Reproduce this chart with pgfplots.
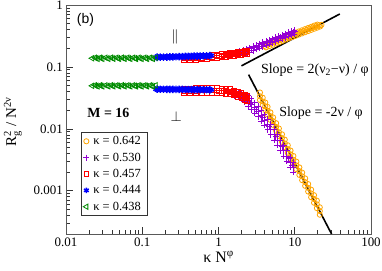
\documentclass[border=0pt]{standalone}
\usepackage{pgfplots}
\pgfplotsset{compat=1.18}
\usepackage{amsmath}
\usepackage{fontspec}
\setmainfont{Liberation Serif}
\newfontfamily\sansf{Liberation Sans}
\definecolor{corange}{RGB}{255,165,0}
\definecolor{cviolet}{RGB}{148,0,211}
\definecolor{cred}{RGB}{255,0,0}
\definecolor{cblue}{RGB}{0,0,255}
\definecolor{cgreen}{RGB}{0,139,0}
\begin{document}
\begin{tikzpicture}
\begin{axis}[
  xmode=log, ymode=log,
  scale only axis, width=305bp, height=229bp,
  xmin=0.01, xmax=100, ymin=2e-4, ymax=1,
  axis line style={black!65, line width=0.8bp},
  tick style={black!80, line width=0.6bp},
  tick align=inside,
  xtick pos=left, ytick pos=left,
  major tick length=7bp, minor tick length=4bp,
  xtick={0.01,0.1,1,10,100}, xticklabels={0.01,0.1,1,10,100},
  ytick={0.001,0.01,0.1,1}, yticklabels={0.001,0.01,0.1,1},
  minor xtick={0.02,0.03,0.04,0.05,0.06,0.07,0.08,0.09,0.2,0.3,0.4,0.5,0.6,0.7,0.8,0.9,2,3,4,5,6,7,8,9,20,30,40,50,60,70,80,90},
  minor ytick={3e-4,4e-4,5e-4,6e-4,7e-4,8e-4,9e-4,0.002,0.003,0.004,0.005,0.006,0.007,0.008,0.009,0.02,0.03,0.04,0.05,0.06,0.07,0.08,0.09,0.2,0.3,0.4,0.5,0.6,0.7,0.8,0.9},
  ticklabel style={font=\fontsize{13}{13}\selectfont},
  xticklabel style={inner sep=0pt, yshift=-4bp},
  yticklabel style={inner sep=0pt, xshift=-3bp},
  xlabel={κ N$^{\text{φ}}$},
  ylabel={R$_{\text{g}}^{\text{2}}$ / N$^{\text{2ν}}$},
  xlabel style={font=\fontsize{16}{16}\selectfont, at={(axis description cs:0.5,0)}, anchor=north, yshift=-17bp, inner sep=0pt},
  ylabel style={font=\fontsize{15}{15}\selectfont, at={(axis description cs:-0.174,0.49)}, anchor=center, inner sep=0pt},
  legend style={at={(axis description cs:0.049,0.445)}, anchor=north west, draw=black!80, line width=0.6bp, fill=white, font=\fontsize{12.5}{13}\selectfont, inner xsep=2bp, inner ysep=2bp, row sep=2.6bp, cells={anchor=west}, nodes={inner xsep=4bp}},
  clip=true,
]
\coordinate (sw) at (rel axis cs:0,0);
% kappa = 0.642
\addplot[only marks, mark=o, corange, mark size=2.6bp, line width=0.8pt] table {
4.0 0.218
4.4 0.228
4.9 0.240
5.4 0.251
6.0 0.264
6.6 0.276
7.3 0.289
8.0 0.302
8.8 0.316
9.7 0.330
10.7 0.346
11.8 0.362
13.0 0.379
14.3 0.396
15.7 0.414
17.3 0.434
19.0 0.453
20.7 0.468
22.4 0.478
4.2 0.236
4.65 0.247
5.15 0.259
5.7 0.272
6.3 0.286
6.95 0.299
7.65 0.313
8.4 0.327
9.25 0.342
10.2 0.357
11.25 0.373
12.4 0.390
13.65 0.408
15.0 0.426
16.5 0.445
18.1 0.466
19.8 0.483
4.2 0.207
4.65 0.217
5.15 0.228
5.7 0.240
6.3 0.252
6.95 0.264
7.65 0.277
8.4 0.290
9.25 0.303
10.2 0.317
11.25 0.332
12.4 0.347
13.65 0.363
15.0 0.379
16.5 0.397
18.1 0.414
19.8 0.432
21.5 0.450
3.5 0.03354
3.8 0.02766
4.1 0.02316
4.4 0.01963
4.8 0.01602
5.2 0.01328
5.7 0.01071
6.2 0.0088
6.8 0.00709
7.4 0.00581
8.1 0.00471
8.8 0.00388
9.6 0.003163
10.5 0.002565
11.5 0.002073
12.5 0.001706
13.7 0.001376
15 0.001113
16.4 0.000903
17.9 0.000736
19.5 0.000602
21.3 0.00047
3.5 0.0386
3.8 0.0318
4.1 0.0266
4.4 0.0226
4.8 0.0184
5.2 0.01527
5.7 0.01232
6.2 0.01012
6.8 0.00815
7.4 0.00668
8.1 0.00542
8.8 0.00446
9.6 0.00364
10.5 0.00295
11.5 0.00238
12.5 0.00196
13.7 0.00158
15 0.00128
16.4 0.00104
17.9 0.000846
19.5 0.000692
21.3 0.00054
3.5 0.0292
3.8 0.0241
4.1 0.0201
4.4 0.01708
4.8 0.01394
5.2 0.01155
5.7 0.00932
6.2 0.00766
6.8 0.00617
7.4 0.00505
8.1 0.0041
8.8 0.00338
9.6 0.00275
10.5 0.00223
11.5 0.0018
12.5 0.00148
13.7 0.0012
15 0.00097
16.4 0.000786
17.9 0.00064
19.5 0.000524
21.3 0.00041
};
\addlegendentry{κ = 0.642}
% kappa = 0.530
\addplot[only marks, mark=+, cviolet, mark size=3bp, line width=0.9pt] table {
1.6 0.162
1.8 0.165
2.0 0.172
2.2 0.177
2.45 0.1866
2.7 0.1956
3.0 0.2058
3.3 0.2156
3.65 0.2265
4.0 0.237
4.4 0.248
4.85 0.260
5.35 0.273
5.9 0.286
6.5 0.300
7.15 0.314
7.9 0.330
8.7 0.346
9.5 0.361
10.0 0.370
1.7 0.175
1.9 0.180
2.1 0.186
2.32 0.193
2.57 0.203
2.85 0.214
3.15 0.225
3.47 0.236
3.82 0.248
4.2 0.259
4.62 0.271
5.1 0.285
5.62 0.299
6.2 0.313
6.82 0.328
7.5 0.344
8.3 0.361
9.1 0.378
9.8 0.392
1.7 0.150
1.9 0.155
2.1 0.160
2.32 0.167
2.57 0.174
2.85 0.183
3.15 0.192
3.47 0.201
3.82 0.212
4.2 0.222
4.62 0.233
5.1 0.245
5.62 0.257
6.2 0.270
6.82 0.283
7.5 0.297
8.3 0.312
9.1 0.327
9.8 0.340
1.6 0.0368
1.8 0.0352
2.0 0.0332
2.2 0.031
2.45 0.028
2.7 0.025
3.0 0.0218
3.3 0.019
3.65 0.0163
4.0 0.0139
4.4 0.0117
4.85 0.0097
5.35 0.0080
5.9 0.0066
6.5 0.0054
7.15 0.0044
7.9 0.0036
8.7 0.0029
9.5 0.0024
1.6 0.0395
1.6 0.0340
1.8 0.0380
1.8 0.0325
2.0 0.0360
2.0 0.0305
2.2 0.0350
2.2 0.0275
2.45 0.0342
2.45 0.0230
2.7 0.0305
2.7 0.0205
3.0 0.0266
3.0 0.0179
3.3 0.0232
3.3 0.0156
3.65 0.0199
3.65 0.0134
4.0 0.0170
4.0 0.0114
4.4 0.0143
4.4 0.0096
4.85 0.0118
4.85 0.0080
5.35 0.0098
5.35 0.0066
5.9 0.0081
5.9 0.0054
6.5 0.0066
6.5 0.0044
7.15 0.0054
7.15 0.0036
7.9 0.0044
7.9 0.0030
8.7 0.0035
8.7 0.0024
9.5 0.0029
9.5 0.0020
2.6 0.026
3.15 0.0205
3.8 0.0152
4.6 0.0108
5.6 0.0075
6.8 0.0051
8.3 0.0033
9.2 0.0026
};
\addlegendentry{κ = 0.530}
% kappa = 0.457
\addplot[only marks, mark=square, cred, mark size=2.4bp, line width=0.8pt] table {
0.35 0.137
0.42 0.138
0.5 0.139
0.6 0.141
0.7 0.143
0.82 0.146
0.95 0.149
1.1 0.152
1.25 0.155
1.4 0.158
1.6 0.161
1.8 0.164
2.0 0.168
2.2 0.171
2.35 0.174
0.35 0.145
0.42 0.146
0.5 0.147
0.6 0.149
0.7 0.152
0.82 0.155
0.95 0.158
1.1 0.161
1.25 0.164
1.4 0.167
1.6 0.171
1.8 0.174
2.0 0.178
2.2 0.181
2.35 0.184
0.35 0.129
0.42 0.130
0.5 0.131
0.6 0.133
0.7 0.134
0.82 0.137
0.95 0.140
1.1 0.143
1.25 0.146
1.4 0.149
1.6 0.151
1.8 0.154
2.0 0.158
2.2 0.161
2.35 0.164
1.02 0.15
1.18 0.153
1.32 0.156
1.5 0.16
1.7 0.163
1.9 0.166
2.1 0.169
2.3 0.172
0.35 0.041
0.42 0.0412
0.5 0.0415
0.6 0.0417
0.7 0.0418
0.82 0.0418
0.95 0.0416
1.1 0.0412
1.25 0.0406
1.4 0.040
1.6 0.038
1.8 0.036
2.0 0.0345
2.2 0.0325
2.35 0.031
0.35 0.0447
0.42 0.0449
0.5 0.0452
0.6 0.0455
0.7 0.0456
0.82 0.0456
0.95 0.0453
1.1 0.0449
1.25 0.0443
1.4 0.0436
1.6 0.0414
1.8 0.0392
2.0 0.0376
2.2 0.0354
2.35 0.0338
0.35 0.0373
0.42 0.0375
0.5 0.0378
0.6 0.0379
0.7 0.0380
0.82 0.0380
0.95 0.0379
1.1 0.0375
1.25 0.0369
1.4 0.0364
1.6 0.0346
1.8 0.0328
2.0 0.0314
2.2 0.0296
2.35 0.0282
1.02 0.0414
1.18 0.041
1.32 0.0403
1.5 0.039
1.7 0.037
1.9 0.0352
2.1 0.0334
2.3 0.0315
};
\addlegendentry{κ = 0.457}
% kappa = 0.444
\addplot[only marks, mark=asterisk, cblue, mark size=2.8bp, line width=1.4pt] table {
0.15 0.143
0.165 0.1435
0.18 0.144
0.2 0.1445
0.22 0.145
0.24 0.1455
0.265 0.146
0.29 0.1465
0.32 0.147
0.35 0.1475
0.385 0.148
0.42 0.1485
0.46 0.149
0.5 0.1495
0.55 0.150
0.6 0.1505
0.66 0.151
0.73 0.152
0.81 0.153
0.157 0.149
0.172 0.1485
0.19 0.149
0.21 0.1496
0.23 0.150
0.252 0.1506
0.277 0.151
0.305 0.1516
0.335 0.152
0.367 0.1527
0.402 0.1532
0.44 0.1537
0.48 0.1542
0.525 0.1547
0.575 0.1553
0.63 0.1558
0.695 0.1563
0.77 0.1573
0.157 0.138
0.172 0.1385
0.19 0.139
0.21 0.1394
0.23 0.140
0.252 0.1404
0.277 0.141
0.305 0.1414
0.335 0.142
0.367 0.1423
0.402 0.1428
0.44 0.1433
0.48 0.1438
0.525 0.1443
0.575 0.1448
0.63 0.1452
0.695 0.1457
0.77 0.1467
0.15 0.0437
0.165 0.0436
0.18 0.0436
0.2 0.0435
0.22 0.0435
0.24 0.0434
0.265 0.0434
0.29 0.0433
0.32 0.0433
0.35 0.0432
0.385 0.0432
0.42 0.0431
0.46 0.0431
0.5 0.0430
0.55 0.0430
0.6 0.0429
0.66 0.0428
0.73 0.0427
0.81 0.0426
0.157 0.0452
0.172 0.0451
0.19 0.0451
0.21 0.0450
0.23 0.0450
0.252 0.0449
0.277 0.0449
0.305 0.0448
0.335 0.0448
0.367 0.0447
0.402 0.0447
0.44 0.0446
0.48 0.0446
0.525 0.0445
0.575 0.0445
0.63 0.0444
0.695 0.0443
0.77 0.0442
0.157 0.0422
0.172 0.0421
0.19 0.0421
0.21 0.0420
0.23 0.0420
0.252 0.0419
0.277 0.0419
0.305 0.0418
0.335 0.0418
0.367 0.0417
0.402 0.0417
0.44 0.0416
0.48 0.0416
0.525 0.0415
0.575 0.0415
0.63 0.0414
0.695 0.0413
0.77 0.0412
};
\addlegendentry{κ = 0.444}
% kappa = 0.438
\addplot[only marks, mark=triangle, cgreen, mark size=3.1bp, line width=0.8pt, mark options={rotate=90}] coordinates {
(0.022,0.138) (0.024,0.141) (0.026,0.135) (0.028,0.141) (0.030,0.135) (0.033,0.141) (0.036,0.135) (0.039,0.141) (0.042,0.135) (0.046,0.141) (0.05,0.135) (0.054,0.141) (0.059,0.135) (0.064,0.141) (0.07,0.135) (0.076,0.141) (0.083,0.135) (0.09,0.141) (0.098,0.135) (0.107,0.141) (0.116,0.135) (0.127,0.141) (0.138,0.135) (0.15,0.141)
(0.025,0.138) (0.029,0.138) (0.035,0.138) (0.041,0.138) (0.048,0.138) (0.057,0.138) (0.067,0.138) (0.08,0.138) (0.094,0.138) (0.112,0.138) (0.132,0.138)
(0.022,0.0495) (0.024,0.0505) (0.026,0.0485) (0.028,0.0505) (0.030,0.0485) (0.033,0.0505) (0.036,0.0485) (0.039,0.0505) (0.042,0.0485) (0.046,0.0505) (0.05,0.0485) (0.054,0.0505) (0.059,0.0485) (0.064,0.0505) (0.07,0.0485) (0.076,0.0505) (0.083,0.0485) (0.09,0.0505) (0.098,0.0485) (0.107,0.0505) (0.116,0.0485) (0.127,0.0505) (0.138,0.0485) (0.15,0.0505)
(0.025,0.0495) (0.029,0.0495) (0.035,0.0495) (0.041,0.0495) (0.048,0.0495) (0.057,0.0495) (0.067,0.0495) (0.08,0.0495) (0.094,0.0495) (0.112,0.0495) (0.132,0.0495)
};
\addlegendentry{κ = 0.438}
% fit lines
\addplot[black, line width=1.6bp, forget plot] coordinates {(2.0,0.104) (39,0.716)};
\addplot[black, line width=1.6bp, forget plot] coordinates {(2.48,0.0751) (30.4,2e-4)};
% annotations
\node[font=\sansf\fontsize{14}{14}\selectfont] at (rel axis cs:0.064,0.937) {(b)};
\node[font=\fontsize{14}{14}\selectfont] at (rel axis cs:0.357,0.862) {$\|$};
\node[font=\fontsize{14}{14}\selectfont] at (rel axis cs:0.361,0.512) {$\perp$};
\node[font=\bfseries\fontsize{14}{14}\selectfont] at (rel axis cs:0.139,0.530) {M = 16};
\node[font=\fontsize{14}{14}\selectfont] at (rel axis cs:0.816,0.716) {Slope = 2(ν$_{\text{2}}$−ν) / φ};
\node[font=\fontsize{14}{14}\selectfont] at (rel axis cs:0.836,0.528) {Slope = -2ν / φ};
\end{axis}
\pgfresetboundingbox
\path[use as bounding box] ([xshift=-66bp,yshift=-37bp]sw) rectangle ([xshift=316bp,yshift=234bp]sw);
\end{tikzpicture}
\end{document}
